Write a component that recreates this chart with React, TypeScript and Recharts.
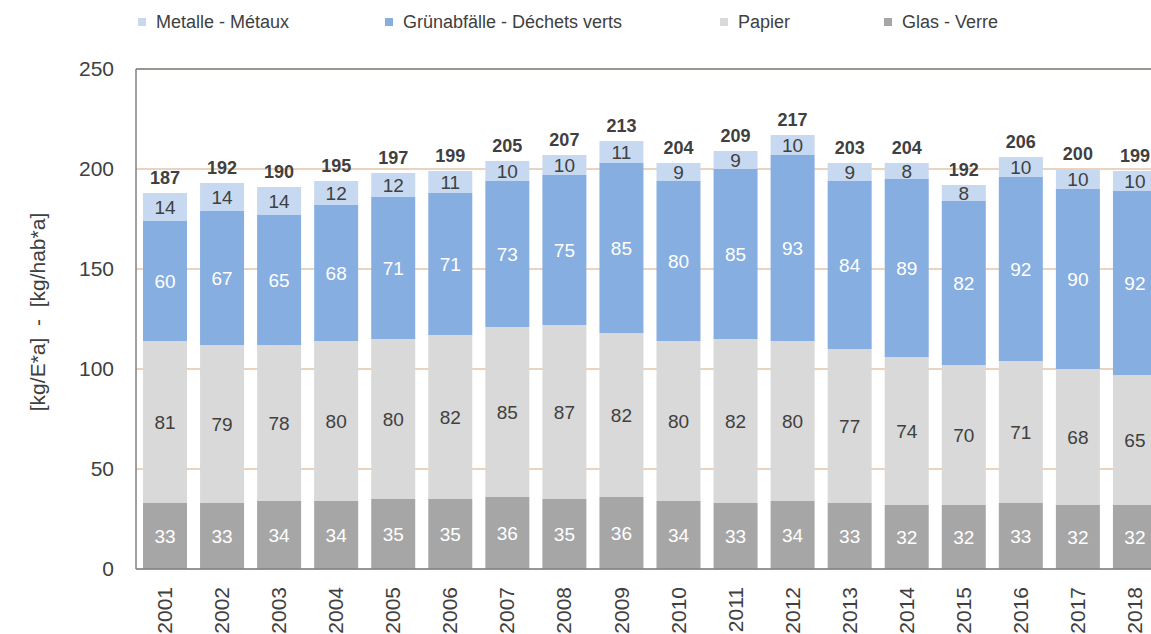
import React from 'react';
import { BarChart, Bar, XAxis, YAxis, CartesianGrid, LabelList, ReferenceLine } from 'recharts';

const years = ['2001','2002','2003','2004','2005','2006','2007','2008','2009','2010','2011','2012','2013','2014','2015','2016','2017','2018'];
const glas = [33,33,34,34,35,35,36,35,36,34,33,34,33,32,32,33,32,32];
const papier = [81,79,78,80,80,82,85,87,82,80,82,80,77,74,70,71,68,65];
const gruen = [60,67,65,68,71,71,73,75,85,80,85,93,84,89,82,92,90,92];
const metalle = [14,14,14,12,12,11,10,10,11,9,9,10,9,8,8,10,10,10];
const totals = [187,192,190,195,197,199,205,207,213,204,209,217,203,204,192,206,200,199];
const yTicks = [0,50,100,150,200,250];

const data = years.map((y, i) => ({
  year: y,
  glas: glas[i],
  papier: papier[i],
  gruen: gruen[i],
  metalle: metalle[i],
  total: totals[i],
}));

const COLORS = { glas: '#a6a6a6', papier: '#d9d9d9', gruen: '#86aee0', metalle: '#c6d9f1' };
const FONT = '"Liberation Sans", Arial, sans-serif';

const legendItems = [
  { label: 'Metalle - Métaux', color: COLORS.metalle, x: 138 },
  { label: 'Grünabfälle - Déchets verts', color: COLORS.gruen, x: 385 },
  { label: 'Papier', color: COLORS.papier, x: 720 },
  { label: 'Glas - Verre', color: COLORS.glas, x: 884 },
];

const XTick = (props: any) => {
  const { x, payload } = props;
  const ty = 587;
  return (
    <text x={x} y={ty} transform={`rotate(-90, ${x}, ${ty})`} textAnchor="end" dy="0.36em"
      fontSize={21} fill="#404040" fontFamily={FONT}>{payload.value}</text>
  );
};

const YLabel = () => (
  <text x={38} y={312} transform="rotate(-90, 38, 312)" textAnchor="middle" dy="0.35em"
    fontSize={21} fill="#404040" fontFamily={FONT} style={{ whiteSpace: 'pre' }}>{'[kg/E*a]  -  [kg/hab*a]'}</text>
);

export default function App() {
  return (
    <div style={{ position: 'fixed', left: 0, top: 0, width: 1151, height: 634, overflow: 'hidden', background: '#fff' }}>
      <svg width={1151} height={60} style={{ position: 'absolute', left: 0, top: 0 }}>
        {legendItems.map((it) => (
          <g key={it.label}>
            <rect x={it.x} y={18} width={8} height={8} fill={it.color} />
            <text x={it.x + 18} y={22} dy="0.35em" fontSize={18} fill="#404040" fontFamily={FONT}>{it.label}</text>
          </g>
        ))}
      </svg>
      <div style={{ position: 'absolute', left: 0, top: 0 }}>
        <BarChart width={1200} height={634} data={data} margin={{ top: 69, right: 37, left: 0, bottom: 0 }} barSize={44}>
          <CartesianGrid vertical={false} stroke="#d4a97e" strokeWidth={1} />
          <XAxis dataKey="year" tick={<XTick />} tickLine={false} axisLine={{ stroke: '#808080', strokeWidth: 1.5 }} height={65} interval={0} />
          <YAxis domain={[0, 250]} ticks={yTicks} width={136} tickLine={false} tickSize={8} tickMargin={14}
            axisLine={{ stroke: '#808080', strokeWidth: 1.5 }}
            tick={{ fontSize: 21, fill: '#404040', fontFamily: FONT }}
            label={<YLabel />} />
          <ReferenceLine y={250} stroke="#808080" strokeWidth={1.5} />
          <Bar dataKey="glas" stackId="a" fill={COLORS.glas} isAnimationActive={false}>
            <LabelList dataKey="glas" position="center" fill="#ffffff" fontSize={19} fontFamily={FONT} />
          </Bar>
          <Bar dataKey="papier" stackId="a" fill={COLORS.papier} isAnimationActive={false}>
            <LabelList dataKey="papier" position="center" fill="#404040" fontSize={19} fontFamily={FONT} />
          </Bar>
          <Bar dataKey="gruen" stackId="a" fill={COLORS.gruen} isAnimationActive={false}>
            <LabelList dataKey="gruen" position="center" fill="#ffffff" fontSize={19} fontFamily={FONT} />
          </Bar>
          <Bar dataKey="metalle" stackId="a" fill={COLORS.metalle} isAnimationActive={false}>
            <LabelList dataKey="metalle" position="center" fill="#404040" fontSize={19} fontFamily={FONT} />
            <LabelList dataKey="total" position="top" offset={9} fill="#404040" fontSize={18} fontWeight="bold" fontFamily={FONT} />
          </Bar>
        </BarChart>
      </div>
    </div>
  );
}
